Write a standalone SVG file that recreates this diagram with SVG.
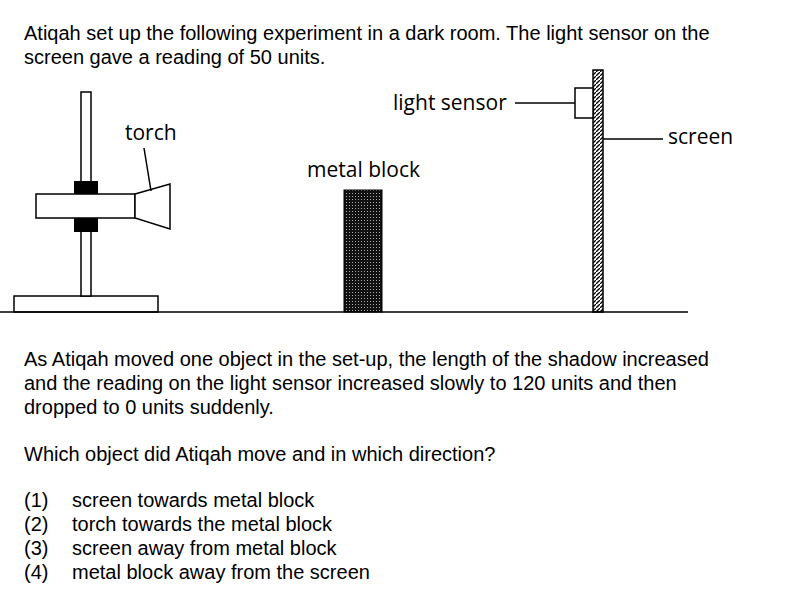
<svg xmlns="http://www.w3.org/2000/svg" width="796" height="599" viewBox="0 0 796 599">
<style>
.t{font-family:"Liberation Sans",Arial,sans-serif;font-size:20px;fill:#000}
.l{font-family:"Open Sans","Noto Sans",sans-serif;font-size:21px;fill:#000}
.s{fill:#fff;stroke:#000;stroke-width:1.5}
.ln{stroke:#000;stroke-width:1.5;fill:none}
</style>
<defs>
<pattern id="hatch" width="4" height="4" patternUnits="userSpaceOnUse"><rect width="4" height="4" fill="#fff"/><path d="M0,4 L4,0" stroke="#000" stroke-width="1.3"/></pattern>
<pattern id="grid" width="3" height="3" patternUnits="userSpaceOnUse"><rect width="3" height="3" fill="#111"/><rect x="1" y="1" width="1" height="1" fill="#aaa"/></pattern>
</defs>
<rect width="796" height="599" fill="#fff"/>
<text class="t" x="24" y="40">Atiqah set up the following experiment in a dark room. The light sensor on the</text>
<text class="t" x="24" y="64">screen gave a reading of 50 units.</text>
<g id="torch">
<rect class="s" x="14" y="296" width="144" height="16"/>
<rect class="s" x="81" y="92" width="10" height="204"/>
<rect x="74" y="181" width="24" height="13" fill="#000"/>
<rect x="74" y="218" width="24" height="14" fill="#000"/>
<rect class="s" x="36" y="194" width="99" height="24"/>
<polygon class="s" points="135,194 170,184 170,229 135,218"/>
<text class="l" x="125" y="140">torch</text>
</g>
<g id="block">
<rect x="344" y="190" width="38" height="122" fill="url(#grid)" stroke="#000"/>
<text class="l" x="307" y="177">metal block</text>
</g>
<g id="screen">
<rect x="593" y="70" width="10" height="242" fill="url(#hatch)" stroke="#000" stroke-width="1.5"/>
<text class="l" x="668" y="144">screen</text>
</g>
<g id="sensor">
<rect class="s" x="575" y="88" width="18" height="30"/>
<text class="l" x="393" y="110">light sensor</text>
</g>
<g id="connectors">
<line class="ln" x1="0" y1="312" x2="688" y2="312"/>
<line class="ln" x1="144" y1="148" x2="151" y2="191"/>
<line class="ln" x1="515" y1="103" x2="575" y2="103"/>
<line class="ln" x1="603" y1="139" x2="663" y2="139"/>
</g>
<text class="t" x="24" y="366">As Atiqah moved one object in the set-up, the length of the shadow increased</text>
<text class="t" x="24" y="390">and the reading on the light sensor increased slowly to 120 units and then</text>
<text class="t" x="24" y="414">dropped to 0 units suddenly.</text>
<text class="t" x="24" y="461">Which object did Atiqah move and in which direction?</text>
<text class="t" x="24" y="507">(1)</text><text class="t" x="72" y="507">screen towards metal block</text>
<text class="t" x="24" y="531">(2)</text><text class="t" x="72" y="531">torch towards the metal block</text>
<text class="t" x="24" y="555">(3)</text><text class="t" x="72" y="555">screen away from metal block</text>
<text class="t" x="24" y="579">(4)</text><text class="t" x="72" y="579">metal block away from the screen</text>
</svg>
